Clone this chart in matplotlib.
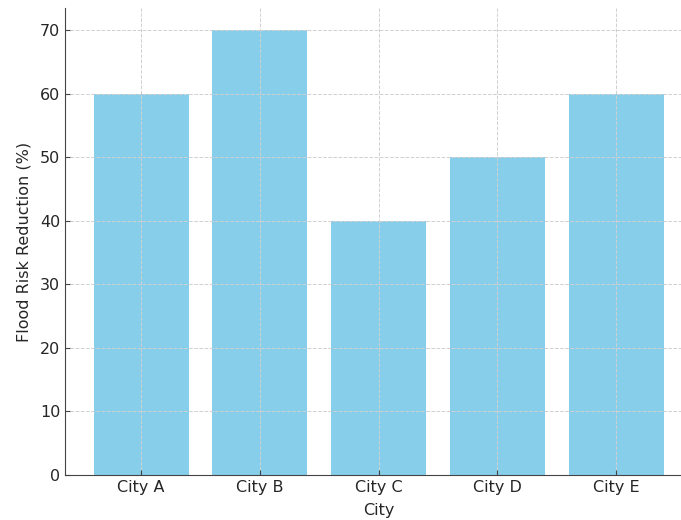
import matplotlib.pyplot as plt

# Data
cities = ["City A", "City B", "City C", "City D", "City E"]
reduction = [60, 70, 40, 50, 60]

fig = plt.figure(figsize=(6.81, 5.2), dpi=100)
ax = fig.add_axes([65 / 681, 45 / 520, 627 / 681, 467 / 520])

ax.bar(cities, reduction, color="skyblue", width=0.8)
ax.grid(True, linestyle="--", color="#d0d0d0", linewidth=0.7)

ax.set_xlabel("City", fontsize=11.5, color="#262626", labelpad=6)
ax.set_ylabel("Flood Risk Reduction (%)", fontsize=11.5, color="#262626", labelpad=6)
ax.tick_params(direction="in", labelsize=11.5, labelcolor="#262626", color="#444444")

for side in ["top", "right"]:
    ax.spines[side].set_visible(False)
for side in ["left", "bottom"]:
    ax.spines[side].set_color("#444444")

fig.savefig("out.png", dpi=100)
